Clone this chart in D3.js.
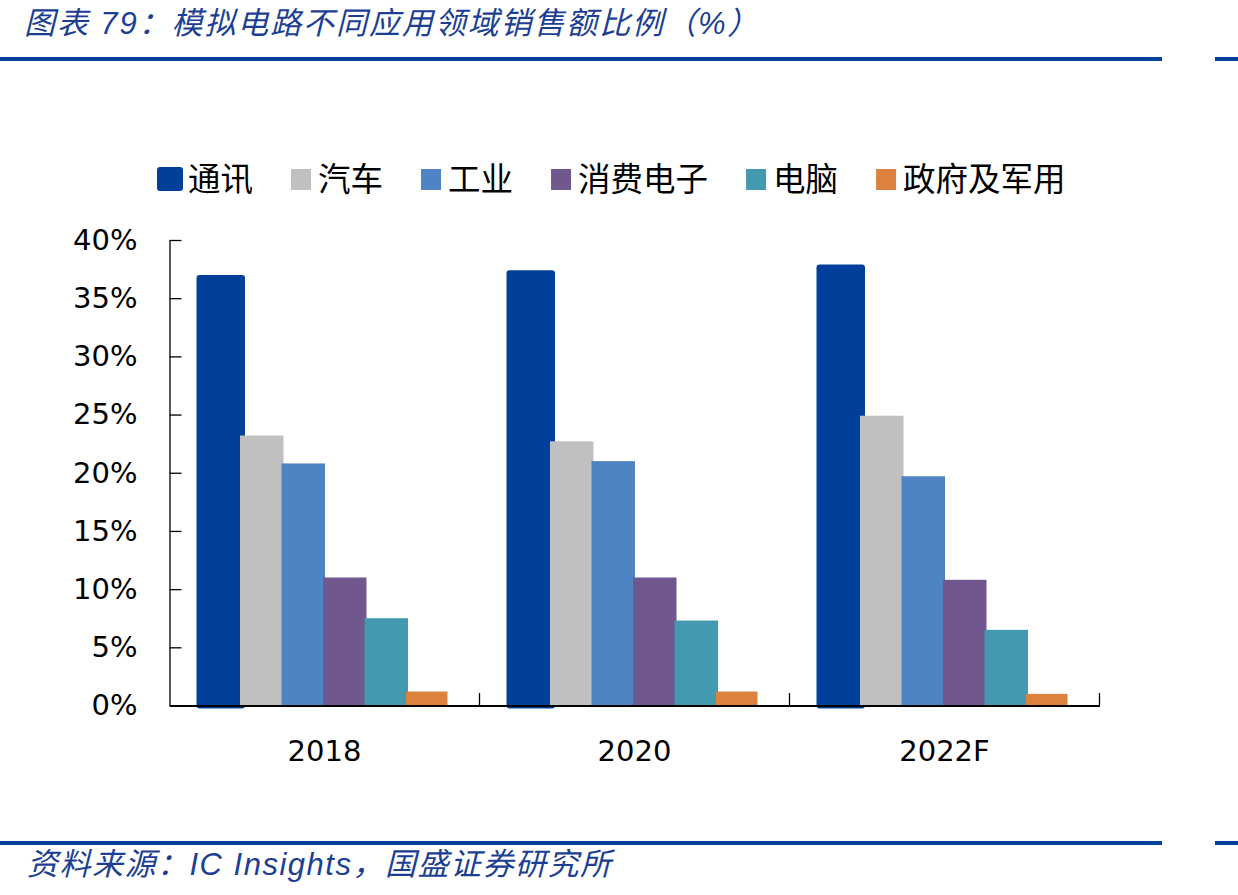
<!DOCTYPE html>
<html><head><meta charset="utf-8">
<script src="https://cdn.jsdelivr.net/npm/d3@7/dist/d3.min.js"></script>
<style>
html,body{margin:0;padding:0;background:#fff;}
svg{display:block;}
</style></head>
<body>
<svg id="chart" width="1238" height="895"></svg>
<script>
// ---- data ----
const categories = ["2018", "2020", "2022F"];
const seriesNames = ["通讯", "汽车", "工业", "消费电子", "电脑", "政府及军用"];
const valsComm = [37.0, 37.4, 37.9];
const valsAuto = [23.2, 22.7, 24.9];
const valsIndustrial = [20.8, 21.0, 19.7];
const valsConsumer = [11.0, 11.0, 10.8];
const valsPC = [7.5, 7.3, 6.5];
const valsGov = [1.2, 1.2, 1.0];
const yTicks = [0, 5, 10, 15, 20, 25, 30, 35, 40];
const titleText = "图表 79：模拟电路不同应用领域销售额比例（%）";
const sourceText = "资料来源：IC Insights，国盛证券研究所";

const seriesValues = [valsComm, valsAuto, valsIndustrial, valsConsumer, valsPC, valsGov];
const colors = ["#00409a", "#c0c0c0", "#4f84c4", "#70588e", "#4299b0", "#db823e"];
const accent = "#00409a";

const svg = d3.select("#chart");

// header / footer rules
svg.append("rect").attr("x", 0).attr("y", 57).attr("width", 1162).attr("height", 4).attr("fill", accent);
svg.append("rect").attr("x", 1215).attr("y", 57).attr("width", 23).attr("height", 4).attr("fill", accent);
svg.append("rect").attr("x", 0).attr("y", 841).attr("width", 1162).attr("height", 4).attr("fill", accent);
svg.append("rect").attr("x", 1215).attr("y", 841).attr("width", 23).attr("height", 4).attr("fill", accent);

const cjk = "'Liberation Sans', 'Noto Sans CJK SC', sans-serif";
svg.append("text").attr("x", 24).attr("y", 34)
  .attr("font-family", cjk).attr("font-size", 31).attr("font-style", "italic")
  .attr("letter-spacing", 1.9)
  .attr("fill", "#1c3f94").text(titleText);
svg.append("text").attr("x", 27).attr("y", 875)
  .attr("font-family", cjk).attr("font-size", 31).attr("font-style", "italic")
  .attr("letter-spacing", 1.5)
  .attr("fill", "#1c3f94").text(sourceText);

// scales
const x0 = d3.scaleBand().domain(categories).range([169.5, 1099.5]).padding(0);
const x1 = d3.scaleBand().domain(seriesNames).range([29, 278]).padding(0);
const y = d3.scaleLinear().domain([0, 40]).range([705.5, 240]);

// bars
seriesNames.forEach((s, i) => {
  const g = svg.append("g");
  g.selectAll("rect").data(categories.map((c, j) => ({c, v: seriesValues[i][j]})))
    .join("rect")
    .attr("x", d => x0(d.c) + x1(s) - (i === 0 ? 2 : 0))
    .attr("y", d => y(d.v))
    .attr("width", x1.bandwidth() + (i === 0 ? 7 : (i === seriesNames.length - 1 ? 0 : 2)))
    .attr("height", d => y(0) - y(d.v) + (i === 0 ? 3 : 0))
    .attr("rx", i === 0 ? 3 : 0)
    .attr("fill", colors[i]);
});

// y axis
const yAxis = svg.append("g").attr("transform", "translate(169.5,0)")
  .call(d3.axisLeft(y).tickValues(yTicks).tickFormat(d => d + "%")
    .tickSizeInner(-12).tickSizeOuter(0).tickPadding(32));
yAxis.selectAll("path,line").attr("stroke", "#000").attr("stroke-width", 1.3);
yAxis.selectAll("text").attr("font-family", "'DejaVu Sans', sans-serif").attr("font-size", 29).attr("fill", "#000");

// x axis
const xAxis = svg.append("g").attr("transform", "translate(0,705.5)")
  .call(d3.axisBottom(x0).tickSize(0).tickSizeOuter(0).tickPadding(35));
xAxis.select(".domain").attr("stroke", "#000").attr("stroke-width", 1.8);
xAxis.selectAll("text").attr("font-family", "'DejaVu Sans', sans-serif").attr("font-size", 29).attr("fill", "#000");
svg.append("g").selectAll("line").data(categories).join("line")
  .attr("x1", d => x0(d) + x0.bandwidth()).attr("x2", d => x0(d) + x0.bandwidth())
  .attr("y1", 693).attr("y2", 705.5).attr("stroke", "#000").attr("stroke-width", 1.3);

// legend
const legend = svg.append("g");
let lx = 157;
seriesNames.forEach((s, i) => {
  const big = i === 0;
  legend.append("rect")
    .attr("x", lx).attr("y", big ? 167 : 169)
    .attr("width", big ? 26 : 20).attr("height", big ? 24 : 21)
    .attr("rx", big ? 3 : 0).attr("fill", colors[i]);
  const t = legend.append("text").attr("x", lx + (big ? 31 : 27)).attr("y", 191)
    .attr("font-family", "'Noto Sans CJK SC', sans-serif").attr("font-size", 32.5)
    .attr("fill", "#000").text(s);
  const w = t.node().getComputedTextLength();
  lx = lx + (big ? 31 : 27) + w + 38;
});
</script>
</body></html>
